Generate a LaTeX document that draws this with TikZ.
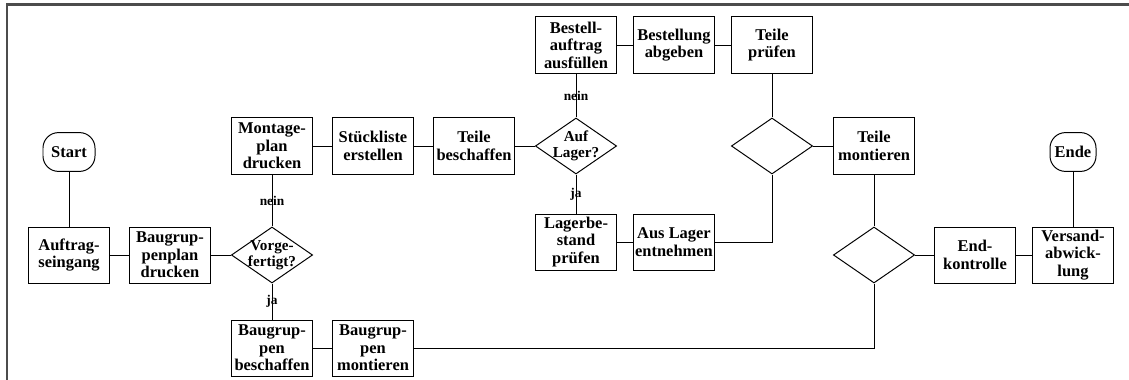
\documentclass[tikz,border=0pt]{standalone}
\usepackage{fontspec}
\setmainfont{Liberation Serif}
\usetikzlibrary{shapes.geometric}

\begin{document}
\begin{tikzpicture}[
        x=0.025cm, y=-0.025cm,
        line width=0.7pt,
        task/.style={draw, rectangle, minimum width=2.03cm, minimum height=1.4cm, inner sep=1pt, align=center, font=\bfseries\fontsize{11.7}{12.4}\selectfont},
        terminal/.style={task, rounded corners=11pt, minimum width=1.3cm, minimum height=0.97cm},
        decision/.style={draw, diamond, minimum width=2.03cm, minimum height=1.4cm, inner sep=0pt},
        dtext/.style={align=center, inner sep=0pt, font=\bfseries\fontsize{10.8}{11.5}\selectfont},
        answer/.style={inner sep=0pt, font=\bfseries\fontsize{9.5}{10}\selectfont},
        frame/.style={draw=black!70, line width=1.6pt},
    ]
        \useasboundingbox (0,0) rectangle (1129,380);
        \draw[frame] (7,380) -- (7,4.5) -- (1129,4.5);

        % Order intake and assembly groups
        \node[terminal] (start) at (69,152) {Start};
        \node[task] (auftrag) at (69,255) {Auftrag-\\seingang};
        \node[task] (bgplan) at (170,255) {Baugrup-\\penplan\\drucken};
        \node[decision, label={[dtext]center:{Vorge-\\fertigt?}}] (vorgef) at (272,255) {};
        \node[task] (montplan) at (272,146) {Montage-\\plan\\drucken};
        \node[task] (bgbesch) at (272,348) {Baugrup-\\pen\\beschaffen};
        \node[task] (bgmont) at (373,348) {Baugrup-\\pen\\montieren};

        % Parts procurement
        \node[task] (stueckl) at (373,146) {Stückliste\\erstellen};
        \node[task] (tbesch) at (474,146) {Teile\\beschaffen};
        \node[decision, label={[dtext]center:{Auf\\Lager?}}] (lager) at (576,146) {};
        \node[task] (bestauf) at (576,45) {Bestell-\\auftrag\\ausfüllen};
        \node[task] (bestabg) at (674,45) {Bestellung\\abgeben};
        \node[task] (tpruef) at (772,45) {Teile\\prüfen};
        \node[task] (lbest) at (576,242) {Lagerbe-\\stand\\prüfen};
        \node[task] (entn) at (674,242) {Aus Lager\\entnehmen};

        % Final assembly and shipping
        \node[decision] (merge1) at (772,146) {};
        \node[task] (tmont) at (874,146) {Teile\\montieren};
        \node[decision] (merge2) at (874,255) {};
        \node[task] (endk) at (975,255) {End-\\kontrolle};
        \node[task] (versand) at (1073,255) {Versand-\\abwick-\\lung};
        \node[terminal, minimum width=1.15cm] (ende) at (1073,152) {Ende};

        % Straight connections
        \foreach \source/\dest in {start/auftrag, auftrag/bgplan, bgplan/vorgef, bgbesch/bgmont,
                montplan/stueckl, stueckl/tbesch, tbesch/lager, bestauf/bestabg, bestabg/tpruef,
                lbest/entn, tpruef/merge1, merge1/tmont, tmont/merge2, merge2/endk,
                endk/versand, ende/versand}
            \path (\source) edge (\dest);

        % Decision branches
        \path (vorgef) edge node[answer] {nein} (montplan);
        \path (vorgef) edge node[answer] {ja} (bgbesch);
        \path (lager) edge node[answer] {nein} (bestauf);
        \path (lager) edge node[answer] {ja} (lbest);

        % Elbow connections into the merge diamonds
        \draw (entn) -| (merge1);
        \draw (bgmont) -| (merge2);
\end{tikzpicture}
\end{document}
